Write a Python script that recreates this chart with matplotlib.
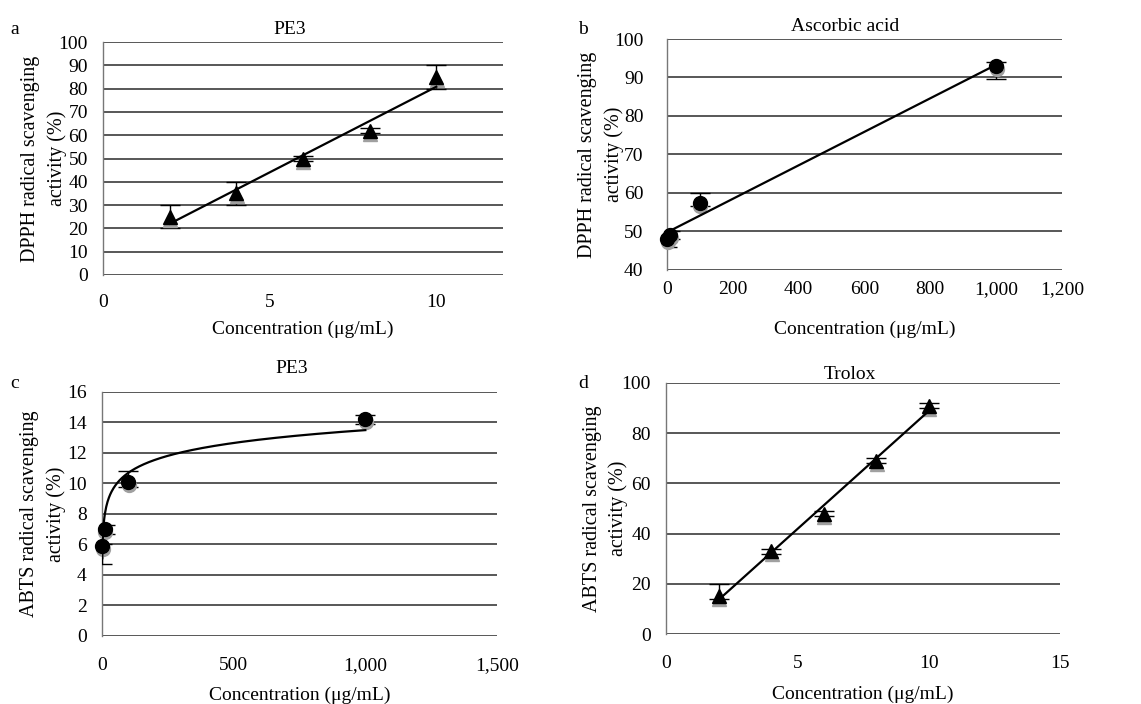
import matplotlib
matplotlib.use("Agg")
import matplotlib.pyplot as plt
from matplotlib.transforms import offset_copy
import numpy as np

plt.rcParams['font.family'] = ['Liberation Serif', 'DejaVu Serif']

# Panel a: DPPH, PE3
conc_a = [2, 4, 6, 8, 10]
dpph_pe3 = [25, 35, 50, 62, 85]
err_a_low = [5, 5, 1, 1, 5]
err_a_up = [5, 5, 1, 1, 5]

# Panel b: DPPH, ascorbic acid
conc_b = [1, 10, 100, 1000]
dpph_asc = [48, 49, 57.5, 93]
err_b_low = [2, 1, 1, 3.5]
err_b_up = [2, 1, 2.5, 1]

# Panel c: ABTS, PE3
conc_c = [1, 10, 100, 1000]
abts_pe3 = [5.9, 7.0, 10.1, 14.2]
err_c_low = [1.2, 0.3, 0.3, 0.3]
err_c_up = [0.1, 0.3, 0.7, 0.3]

# Panel d: ABTS, Trolox
conc_d = [2, 4, 6, 8, 10]
abts_trolox = [15, 33, 48, 69, 91]
err_d_low = [1, 1, 1, 1, 1]
err_d_up = [5, 1, 1, 1, 1]

GRID = '#4a4a4a'
FS = 14


def style_axes(ax, xlim, xticks, xlabels, ylim, yticks, ylabel, title, title_x,
               ypad, xpad, xlabelpad, ylabelpad, titlepad):
    ax.set_xlim(*xlim)
    ax.set_ylim(*ylim)
    ax.set_xticks(xticks)
    ax.set_xticklabels(xlabels, fontsize=FS)
    ax.set_yticks(yticks)
    ax.set_yticklabels([str(t) for t in yticks], fontsize=FS)
    ax.tick_params(length=0)
    ax.tick_params(axis='x', pad=xpad)
    ax.tick_params(axis='y', pad=ypad)
    for side in ['top', 'right', 'bottom']:
        ax.spines[side].set_visible(False)
    ax.spines['left'].set_color('#777777')
    ax.spines['left'].set_linewidth(1.0)
    ax.grid(axis='y', color=GRID, linewidth=1.3)
    ax.set_axisbelow(True)
    ax.set_xlabel("Concentration (\u03bcg/mL)", fontsize=FS, labelpad=xlabelpad)
    ax.set_ylabel(ylabel, fontsize=14.5, linespacing=1.45, labelpad=ylabelpad)
    ax.set_title(title, fontsize=FS, x=title_x, pad=titlepad)


def points(ax, x, y, low, up, marker):
    ax.errorbar(x, y, yerr=[low, up], fmt='none', ecolor='black', capsize=7,
                elinewidth=1.0, capthick=1.0, zorder=3)
    # soft grey shadow under each marker, as in the scanned figure
    shadow = offset_copy(ax.transData, fig=ax.figure, x=0.5, y=-3, units='dots')
    ax.plot(x, y, linestyle='none', marker=marker, color='#a0a0a0', markersize=10,
            zorder=3.5, clip_on=False, transform=shadow)
    ax.plot(x, y, linestyle='none', marker=marker, color='black', markersize=10,
            zorder=4, clip_on=False)


def linear_fit(ax, x, y, x0, x1):
    slope, inter = np.polyfit(x, y, 1)
    xs = np.array([x0, x1])
    ax.plot(xs, slope * xs + inter, color='black', linewidth=1.6, zorder=5)


fig = plt.figure(figsize=(11.41, 7.04), dpi=100)

# a
ax = fig.add_axes([0.0903, 0.6094, 0.3505, 0.3309])
style_axes(ax, (0, 12), [0, 5, 10], ['0', '5', '10'], (0, 100), list(range(0, 101, 10)),
           "DPPH radical scavenging\nactivity (%)", "PE3", 0.467,
           ypad=11, xpad=14, xlabelpad=7, ylabelpad=-6, titlepad=6)
points(ax, conc_a, dpph_pe3, err_a_low, err_a_up, '^')
linear_fit(ax, conc_a, dpph_pe3, conc_a[0], conc_a[-1])

# b
ax = fig.add_axes([0.5846, 0.6165, 0.3462, 0.3281])
style_axes(ax, (0, 1200), list(range(0, 1201, 200)),
           ['0', '200', '400', '600', '800', '1,000', '1,200'], (40, 100), list(range(40, 101, 10)),
           "DPPH radical scavenging\nactivity (%)", "Ascorbic acid", 0.45,
           ypad=17, xpad=8, xlabelpad=16, ylabelpad=-7, titlepad=6)
points(ax, conc_b, dpph_asc, err_b_low, err_b_up, 'o')
linear_fit(ax, conc_b, dpph_asc, 0, conc_b[-1])

# c
ax = fig.add_axes([0.0894, 0.0966, 0.3462, 0.3466])
style_axes(ax, (0, 1500), [0, 500, 1000, 1500], ['0', '500', '1,000', '1,500'], (0, 16),
           list(range(0, 17, 2)), "ABTS radical scavenging\nactivity (%)", "PE3", 0.48,
           ypad=11, xpad=15, xlabelpad=9, ylabelpad=1, titlepad=14)
points(ax, conc_c, abts_pe3, err_c_low, err_c_up, 'o')
a_log, b_log = np.polyfit(np.log(conc_c), abts_pe3, 1)
xs = np.linspace(conc_c[0], conc_c[-1], 400)
ax.plot(xs, a_log * np.log(xs) + b_log, color='black', linewidth=1.6, zorder=5)

# d
ax = fig.add_axes([0.5837, 0.0994, 0.3453, 0.3566])
style_axes(ax, (0, 15), [0, 5, 10, 15], ['0', '5', '10', '15'], (0, 100),
           list(range(0, 101, 20)), "ABTS radical scavenging\nactivity (%)", "Trolox", 0.467,
           ypad=11, xpad=15, xlabelpad=10, ylabelpad=-5, titlepad=3)
points(ax, conc_d, abts_trolox, err_d_low, err_d_up, '^')
linear_fit(ax, conc_d, abts_trolox, conc_d[0], conc_d[-1])

# panel letters
for letter, (px, py) in zip("abcd", [(15, 30), (583, 30), (15, 383), (583, 383)]):
    fig.text(px / 1141, 1 - py / 704, letter, fontsize=FS, ha='center', va='center')

fig.savefig("out.png", dpi=100)
